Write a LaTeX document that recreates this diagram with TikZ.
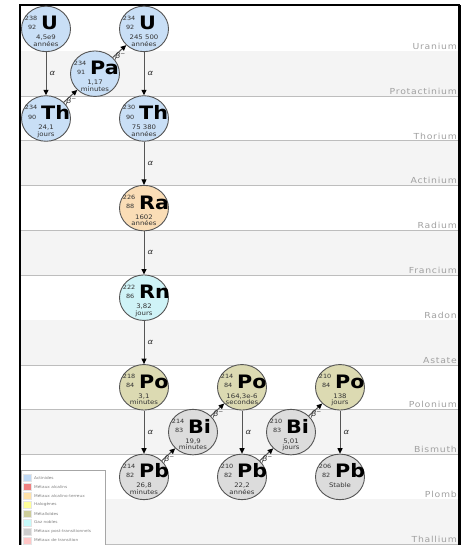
\documentclass[tikz,border=0pt]{standalone}
\usepackage{fontspec}
\setmainfont[FakeStretch=1.12]{DejaVu Sans}
\newfontfamily\rowfont[FakeStretch=1.12,LetterSpace=9]{DejaVu Sans}
\usetikzlibrary{arrows.meta,shapes.geometric}

% element family colours
\definecolor{actin}{HTML}{C9DFF6}
\definecolor{alkearth}{HTML}{FADDB6}
\definecolor{noble}{HTML}{CFF3F7}
\definecolor{metalloid}{HTML}{DCDAB2}
\definecolor{poor}{HTML}{DCDCDC}
\definecolor{bandgray}{HTML}{F4F4F4}
\definecolor{bandline}{HTML}{BDBDBD}
\definecolor{rowtext}{HTML}{A0A0A0}
\definecolor{ink}{HTML}{333333}
\definecolor{edge}{HTML}{555555}
% legend swatches
\definecolor{legactin}{HTML}{BFD9F5}
\definecolor{legalk}{HTML}{F08080}
\definecolor{legalkearth}{HTML}{FFE2A8}
\definecolor{leghalo}{HTML}{FFFF99}
\definecolor{legmetalloid}{HTML}{CCCC99}
\definecolor{legnoble}{HTML}{C6FAFA}
\definecolor{legpoor}{HTML}{CCCCCC}
\definecolor{legtrans}{HTML}{FFC6C6}

% one nucleus: name, x, y, fill, A, Z, symbol, half-life (two lines)
\newcommand\isotope[9]{%
  \node[iso, fill=#4] (#1) at (#2,#3) {};
  \node[isosym] (#1-s) at ([shift={(-5,1)}]#1.center) {#7};
  \node[isonum] (#1-a) at ([shift={(-8.5,-8.6)}]#1.center) {#5};
  \node[isonum] (#1-z) at ([shift={(-9.5,0.6)}]#1.center) {#6};
  \node[isolife] (#1-h) at ([shift={(0,11)}]#1.center) {#8};
  \node[isolife] (#1-j) at ([shift={(0,17.6)}]#1.center) {#9};
}

\begin{document}
\begin{tikzpicture}[x=1pt,y=-1pt,
  iso/.style={ellipse, draw=edge, line width=0.9pt, minimum width=49pt, minimum height=45.5pt, inner sep=0pt},
  isosym/.style={anchor=base west, inner sep=0pt, font=\fontsize{18.5}{19}\selectfont\bfseries},
  isonum/.style={anchor=base east, inner sep=0pt, text=ink, font=\fontsize{5.8}{6}\selectfont},
  isolife/.style={anchor=base, inner sep=0pt, text=ink, font=\fontsize{6.2}{7}\selectfont},
  rowlabel/.style={anchor=base east, inner sep=0pt, text=rowtext, font=\rowfont\fontsize{8.3}{9}\selectfont},
  decay/.style={draw=edge, line width=1pt, -{Triangle[length=5.5pt,width=5pt,color=black]}},
  alab/.style={anchor=west, inner sep=0pt, xshift=3pt, text=ink, font=\fontsize{7.5}{8}\selectfont\itshape},
  blab/.style={anchor=north, inner sep=0pt, yshift=-1pt, xshift=1pt, text=ink, font=\fontsize{7.5}{8}\selectfont\itshape},
  legtext/.style={anchor=west, inner sep=0pt, text=gray, font=\fontsize{3.8}{4}\selectfont},
  legsq/.style={minimum width=8pt, minimum height=7pt, inner sep=0pt, draw=white!80!gray, line width=0.3pt}]

\useasboundingbox (0,0) rectangle (466,545);
\clip (0,0) rectangle (466,545);

% element rows
\foreach \k/\el in {0/Uranium,1/Protactinium,2/Thorium,3/Actinium,4/Radium,5/Francium,
                    6/Radon,7/Astate,8/Polonium,9/Bismuth,10/Plomb,11/Thallium}{
  \pgfmathsetmacro\top{6.5+44.8*\k}
  \pgfmathsetmacro\bot{6.5+44.8*(\k+1)}
  \ifodd\k
    \fill[bandgray] (20,\top) rectangle (459,\bot);
  \fi
  \draw[bandline, line width=0.8pt] (20,\bot) -- (459,\bot);
  \node[rowlabel] (row\k) at (457,\bot-1.8) {\el};
}

% frame
\draw[line width=2.4pt] (20,5) -- (20,560);
\draw[line width=2.4pt] (19,5) -- (460,5);
\draw[line width=2.4pt] (459.5,5) -- (459.5,560);

% decay chain
\isotope{U238}{46}{28.9}{actin}{238}{92}{U}{4,5e9}{années}
\isotope{Th234}{46}{118.5}{actin}{234}{90}{Th}{24,1}{jours}
\isotope{Pa234}{95}{73.7}{actin}{234}{91}{Pa}{1,17}{minutes}
\isotope{U234}{144}{28.9}{actin}{234}{92}{U}{245 500}{années}
\isotope{Th230}{144}{118.5}{actin}{230}{90}{Th}{75 380}{années}
\isotope{Ra226}{144}{208.1}{alkearth}{226}{88}{Ra}{1602}{années}
\isotope{Rn222}{144}{297.7}{noble}{222}{86}{Rn}{3,82}{jours}
\isotope{Po218}{144}{387.3}{metalloid}{218}{84}{Po}{3,1}{minutes}
\isotope{Pb214}{144}{476.9}{poor}{214}{82}{Pb}{26,8}{minutes}
\isotope{Bi214}{193}{432.1}{poor}{214}{83}{Bi}{19,9}{minutes}
\isotope{Po214}{242}{387.3}{metalloid}{214}{84}{Po}{164,3e-6}{secondes}
\isotope{Pb210}{242}{476.9}{poor}{210}{82}{Pb}{22,2}{années}
\isotope{Bi210}{291}{432.1}{poor}{210}{83}{Bi}{5,01}{jours}
\isotope{Po210}{340}{387.3}{metalloid}{210}{84}{Po}{138}{jours}
\isotope{Pb206}{340}{476.9}{poor}{206}{82}{Pb}{Stable}{}

% alpha decays
\foreach \a/\b in {U238/Th234,U234/Th230,Th230/Ra226,Ra226/Rn222,Rn222/Po218,
                   Po218/Pb214,Po214/Pb210,Po210/Pb206}{
  \draw[decay] (\a) -- node[alab] (al-\a) {α} (\b);
}

% beta-minus decays
\foreach \a/\b in {Th234/Pa234,Pa234/U234,Pb214/Bi214,Bi214/Po214,Pb210/Bi210,Bi210/Po210}{
  \draw[decay] (\a) -- node[blab] (bl-\a) {β\textsuperscript{−}} (\b);
}

% legend
\draw[gray!70, line width=0.6pt, fill=white] (21.2,470) rectangle (105,560);
\foreach \i/\c/\t in {0/legactin/Actinides,1/legalk/Métaux alcalins,
                      2/legalkearth/Métaux alcalino-terreux,3/leghalo/Halogènes,
                      4/legmetalloid/Métalloïdes,5/legnoble/Gaz nobles,
                      6/legpoor/Métaux post-transitionnels,7/legtrans/Métaux de transition}{
  \node[legsq, fill=\c] (sq\i) at (27,478+8.9*\i) {};
  \node[legtext] (lt\i) at (34,478+8.9*\i) {\t};
}
\end{tikzpicture}
\end{document}
